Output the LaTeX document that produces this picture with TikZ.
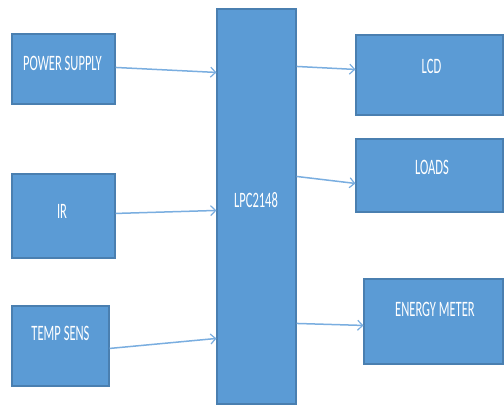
\documentclass[tikz,border=0pt]{standalone}
\usepackage{fontspec}
\setmainfont{Carlito}
\usetikzlibrary{arrows.meta,calc}
\definecolor{boxfill}{HTML}{5B9BD5}
\definecolor{boxline}{HTML}{4A7FB0}
\definecolor{arrcol}{HTML}{7AAEE0}
\newcommand\boxtxt[1]{\scalebox{0.57}[1]{\fontsize{22}{22}\selectfont #1}}
\tikzset{
  blk/.style={draw=boxline, line width=1.1pt, fill=boxfill, inner sep=0pt},
  txt/.style={text=white, inner sep=0pt},
  arr/.style={draw=arrcol, line width=1.5pt, -{Straight Barb[length=5pt,width=10pt,line width=1.2pt]}}
}
\begin{document}
\begin{tikzpicture}[x=1pt,y=-1pt]
\useasboundingbox[fill=white] (0,0) rectangle (504,406);
% boxes
\node[blk, minimum width=103pt, minimum height=70pt] (ps) at (63.5,69) {};
\node[blk, minimum width=103pt, minimum height=84pt] (ir) at (63.5,216) {};
\node[blk, minimum width=97pt, minimum height=80pt] (ts) at (60.5,346) {};
\node[blk, minimum width=79pt, minimum height=395pt] (lpc) at (256.5,206.5) {};
\node[blk, minimum width=147pt, minimum height=80pt] (lcd) at (429.5,75) {};
\node[blk, minimum width=147pt, minimum height=73pt] (loads) at (429.5,175.5) {};
\node[blk, minimum width=139pt, minimum height=85pt] (em) at (433.5,321.5) {};
% labels
\node[txt] (tps) at (62.5,63.5) {\boxtxt{POWER SUPPLY}};
\node[txt] (tir) at (62,211) {\boxtxt{IR}};
\node[txt] (tts) at (60.5,333) {\boxtxt{TEMP SENS}};
\node[txt] (tlpc) at (256,200) {\boxtxt{LPC2148}};
\node[txt] (tlcd) at (431.5,66) {\boxtxt{LCD}};
\node[txt] (tloads) at (432,167.5) {\boxtxt{LOADS}};
\node[txt] (tem) at (435,309.5) {\boxtxt{ENERGY METER}};
% connectors
\draw[arr] ($(ps.north east)+(0,34)$) -- ($(lpc.north west)+(0,64)$);
\draw[arr] ($(ir.north east)+(0,40)$) -- ($(lpc.north west)+(0,202)$);
\draw[arr] ($(ts.north east)+(0,43)$) -- ($(lpc.north west)+(0,330)$);
\draw[arr] ($(lpc.north east)+(0,58)$) -- ($(lcd.north west)+(0,35)$);
\draw[arr] ($(lpc.north east)+(0,168)$) -- ($(loads.north west)+(0,45)$);
\draw[arr] ($(lpc.north east)+(0,315)$) -- ($(em.north west)+(0,47)$);
\end{tikzpicture}
\end{document}
